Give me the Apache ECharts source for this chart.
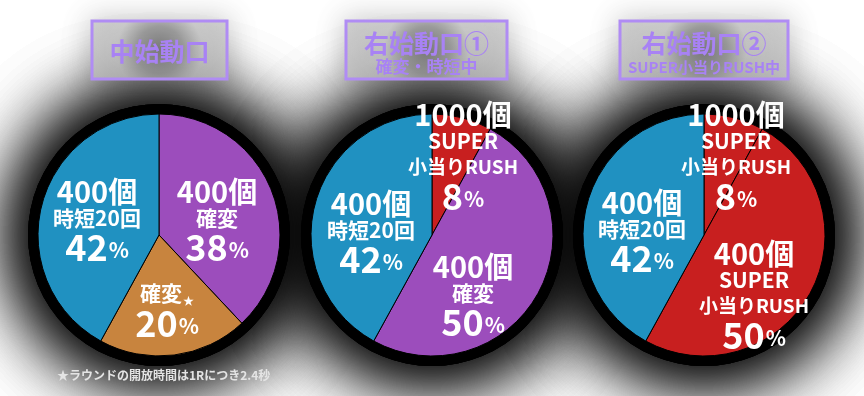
<!DOCTYPE html>
<html>
<head>
<meta charset="utf-8">
<script src="https://cdn.jsdelivr.net/npm/echarts@6/dist/echarts.min.js"></script>
<style>
html,body{margin:0;padding:0;background:#fff;}
#chart{width:864px;height:396px;}
</style>
</head>
<body>
<div id="chart"></div>
<script>
// ---- data ----
const boxTitles = ['中始動口', '右始動口①', '右始動口②'];
const boxSubtitles = ['', '確変・時短中', 'SUPER小当りRUSH中'];
const footnote = '★ラウンドの開放時間は1Rにつき2.4秒';

const chuNames = ['400個\n確変', '確変★', '400個\n時短20回'];
const chuValues = [38, 20, 42];

const migi1Names = ['1000個\nSUPER\n小当りRUSH', '400個\n確変', '400個\n時短20回'];
const migi1Values = [8, 50, 42];

const migi2Names = ['1000個\nSUPER\n小当りRUSH', '400個\nSUPER\n小当りRUSH', '400個\n時短20回'];
const migi2Values = [8, 50, 42];

// ---- styles ----
const FONT = '"Noto Sans CJK JP", "Noto Sans", sans-serif';
const C_BLUE = '#2091c1', C_PURPLE = '#9c4dbc', C_ORANGE = '#c8843e', C_RED = '#c81f1f';
const R = 121;
// label offsets are measured from the pie centre
const pies = [
  { center: [159, 235], names: chuNames, values: chuValues,
    colors: [C_PURPLE, C_ORANGE, C_BLUE], offsets: [[58, -14], [8, 75], [-62, -14]] },
  { center: [432, 235], names: migi1Names, values: migi1Values,
    colors: [C_RED, C_PURPLE, C_BLUE], offsets: [[31, -78], [41, 61], [-61, -2]] },
  { center: [704, 235], names: migi2Names, values: migi2Values,
    colors: [C_RED, C_RED, C_BLUE], offsets: [[32, -78], [50, 61], [-62, -3]] }
];
const boxes = [
  { x: 92, y: 21, w: 135, h: 58 },
  { x: 346, y: 21, w: 161, h: 58 },
  { x: 620, y: 21, w: 168, h: 58 }
];

function fmt(p) {
  const lines = p.name.split('\n').map(l => {
    if (/個$/.test(l)) return '{n|' + l + '}';
    if (/★$/.test(l)) return '{s|' + l.slice(0, -1) + '}{star|★}';
    if (/RUSH$/.test(l)) return '{k|' + l + '}';
    return '{s|' + l + '}';
  });
  lines.push('{p|' + p.value + '}{pc|%}');
  return lines.join('\n');
}

const rich = {
  n: { fontFamily: FONT, fontWeight: 'bold', fontSize: 29, color: '#fff', lineHeight: 27 },
  s: { fontFamily: FONT, fontWeight: 'bold', fontSize: 21, color: '#fff', lineHeight: 26 },
  k: { fontFamily: FONT, fontWeight: 'bold', fontSize: 19, color: '#fff', lineHeight: 26 },
  star: { fontFamily: FONT, fontWeight: 'bold', fontSize: 11, color: '#fff', lineHeight: 26, verticalAlign: 'bottom', padding: [8, 0, 0, 1] },
  p: { fontFamily: FONT, fontWeight: 'bold', fontSize: 36, color: '#fff', lineHeight: 33 },
  pc: { fontFamily: FONT, fontWeight: 'bold', fontSize: 21, color: '#fff', lineHeight: 33, padding: [6, 0, 0, 1] }
};

const series = [];
pies.forEach(pc => {
  for (let k = 0; k < 3; k++) {
    series.push({
      type: 'pie', center: pc.center, radius: R + 10, silent: true, z: 1,
      animation: false, label: { show: false }, labelLine: { show: false },
      emphasis: { disabled: true },
      itemStyle: { color: '#000', shadowBlur: 80, shadowColor: '#000' },
      data: [{ value: 1, name: '' }]
    });
  }
  series.push({
    type: 'pie', center: pc.center, radius: R, startAngle: 90, clockwise: true,
    z: 2, animation: false, avoidLabelOverlap: false, silent: true,
    emphasis: { disabled: true },
    labelLine: { show: false },
    labelLayout: { hideOverlap: false, moveOverlap: null },
    label: { show: true, position: 'center', formatter: fmt, rich: rich, color: '#fff', align: 'center' },
    itemStyle: { borderColor: '#000', borderWidth: 1 },
    data: pc.values.map((v, i) => ({
      value: v, name: pc.names[i],
      itemStyle: { color: pc.colors[i] },
      label: { offset: pc.offsets[i] }
    }))
  });
});

const graphic = [];
boxes.forEach((b, i) => {
  graphic.push({
    type: 'rect', z: 50,
    shape: { x: b.x, y: b.y, width: b.w, height: b.h },
    style: {
      fill: { type: 'radial', x: 0.5, y: 0.5, r: 0.7, colorStops: [
        { offset: 0, color: 'rgba(120,120,120,0.95)' },
        { offset: 0.55, color: 'rgba(150,150,150,0.85)' },
        { offset: 1, color: 'rgba(200,200,200,0.7)' }] },
      stroke: '#b08cf4', lineWidth: 3,
      shadowBlur: 30, shadowColor: 'rgba(0,0,0,0.3)'
    }
  });
  const cx = b.x + b.w / 2;
  const hasSub = boxSubtitles[i] !== '';
  graphic.push({
    type: 'text', z: 60, x: cx, y: hasSub ? 43 : 51,
    style: { text: boxTitles[i], fill: '#a882f4', align: 'center', verticalAlign: 'middle',
      font: 'bold 25px ' + FONT }
  });
  if (hasSub) {
    graphic.push({
      type: 'text', z: 60, x: cx, y: 67,
      style: { text: boxSubtitles[i], fill: '#a882f4', align: 'center', verticalAlign: 'middle',
        font: 'bold ' + (i === 2 ? 15 : 17) + 'px ' + FONT }
    });
  }
});
graphic.push({
  type: 'text', z: 60, x: 57, y: 375,
  style: { text: footnote, fill: '#e4e4e4', align: 'left', verticalAlign: 'middle',
    font: 'bold 12px ' + FONT }
});

const chart = echarts.init(document.getElementById('chart'), null, { renderer: 'canvas' });
chart.setOption({
  backgroundColor: '#fff',
  animation: false,
  series: series,
  graphic: graphic
});
</script>
</body>
</html>
